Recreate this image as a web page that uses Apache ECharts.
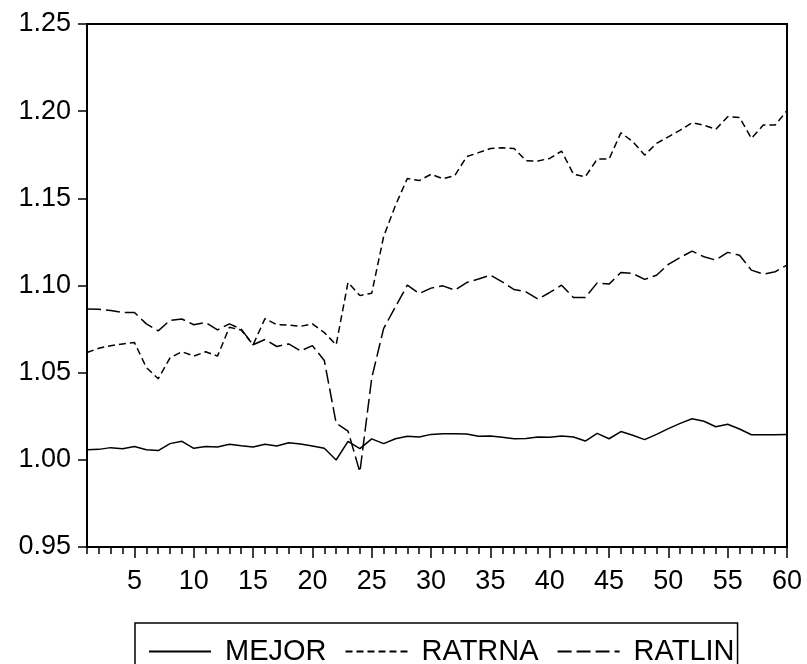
<!DOCTYPE html>
<html>
<head>
<meta charset="utf-8">
<script src="https://cdn.jsdelivr.net/npm/echarts@6/dist/echarts.min.js"></script>
<style>
  html, body { margin: 0; padding: 0; background: #fff; }
  #chart { width: 807px; height: 664px; }
</style>
</head>
<body>
<div id="chart"></div>
<script>
// Observation index 1..60
const periods = Array.from({ length: 60 }, (_, i) => String(i + 1));

const yTicks = [0.95, 1.00, 1.05, 1.10, 1.15, 1.20, 1.25];

const mejor = [
  1.0058, 1.0060, 1.0070, 1.0064, 1.0076, 1.0058, 1.0053, 1.0093, 1.0106, 1.0066,
  1.0076, 1.0074, 1.0089, 1.0081, 1.0074, 1.0089, 1.0079, 1.0098, 1.0091, 1.0079,
  1.0066, 0.9999, 1.0106, 1.0064, 1.0120, 1.0093, 1.0121, 1.0135, 1.0131, 1.0146,
  1.0150, 1.0150, 1.0148, 1.0135, 1.0137, 1.0129, 1.0121, 1.0123, 1.0131, 1.0129,
  1.0137, 1.0131, 1.0108, 1.0152, 1.0121, 1.0162, 1.0141, 1.0116, 1.0146, 1.0179,
  1.0209, 1.0236, 1.0221, 1.0190, 1.0204, 1.0177, 1.0144, 1.0144, 1.0144, 1.0146
];

const ratrna = [
  1.0616, 1.0640, 1.0655, 1.0665, 1.0673, 1.0530, 1.0465, 1.0585, 1.0620, 1.0595,
  1.0620, 1.0595, 1.0760, 1.0745, 1.0660, 1.0810, 1.0775, 1.0773, 1.0766, 1.0780,
  1.0730, 1.0660, 1.1018, 1.0942, 1.0956, 1.1280, 1.1460, 1.1614, 1.1602, 1.1638,
  1.1612, 1.1631, 1.1739, 1.1762, 1.1786, 1.1790, 1.1786, 1.1716, 1.1714, 1.1729,
  1.1771, 1.1639, 1.1624, 1.1725, 1.1725, 1.1876, 1.1825, 1.1748, 1.1815, 1.1853,
  1.1891, 1.1934, 1.1920, 1.1896, 1.1968, 1.1964, 1.1844, 1.1920, 1.1920, 1.2003
];

const ratlin = [
  1.0865, 1.0864, 1.0856, 1.0846, 1.0845, 1.0780, 1.0740, 1.0800, 1.0808, 1.0775,
  1.0788, 1.0745, 1.0780, 1.0750, 1.0660, 1.0690, 1.0650, 1.0665, 1.0625, 1.0655,
  1.0570, 1.0210, 1.0165, 0.9930, 1.0470, 1.0753, 1.0878, 1.1002, 1.0954, 1.0985,
  1.0998, 1.0973, 1.1017, 1.1037, 1.1059, 1.1021, 1.0977, 1.0964, 1.0922, 1.0960,
  1.1002, 1.0931, 1.0931, 1.1015, 1.1008, 1.1075, 1.1069, 1.1035, 1.1059, 1.1121,
  1.1161, 1.1197, 1.1165, 1.1146, 1.1190, 1.1174, 1.1088, 1.1065, 1.1079, 1.1117
];

const FONT = "'Liberation Sans', Arial, sans-serif";
const INK = '#000';

const chart = echarts.init(document.getElementById('chart'), null, { renderer: 'canvas' });

function seriesLine(name, data, dash) {
  return {
    name, type: 'line', data,
    xAxisIndex: 0, yAxisIndex: 0,
    symbol: 'none', showSymbol: false,
    animation: false,
    lineStyle: { color: INK, width: 1.5, type: dash },
    itemStyle: { color: INK }
  };
}

chart.setOption({
  animation: false,
  backgroundColor: '#fff',
  grid: {
    left: 87, right: 20, top: 24, bottom: 117,
    show: true, borderColor: INK, borderWidth: 2, backgroundColor: 'transparent'
  },
  xAxis: [
    {
      type: 'category', data: periods, boundaryGap: false, position: 'bottom',
      axisLine: { show: true, lineStyle: { color: INK, width: 2 } },
      axisTick: { show: true, interval: 0, length: 7, lineStyle: { color: INK, width: 1.5 } },
      axisLabel: {
        interval: (idx) => (idx + 1) % 5 === 0,
        color: INK, fontFamily: FONT, fontSize: 27, margin: 21
      },
      splitLine: { show: false }
    },
    {
      // longer ticks at every fifth period
      type: 'category', data: periods, boundaryGap: false, position: 'bottom',
      axisLine: { show: false },
      axisTick: { show: true, interval: (idx) => (idx + 1) % 5 === 0, length: 11, lineStyle: { color: INK, width: 1.5 } },
      axisLabel: { show: false },
      splitLine: { show: false }
    }
  ],
  yAxis: {
    type: 'value', min: yTicks[0], max: yTicks[yTicks.length - 1], interval: 0.05,
    axisLine: { show: true, lineStyle: { color: INK, width: 2 } },
    axisTick: { show: true, length: 9, lineStyle: { color: INK, width: 1.5 } },
    axisLabel: {
      color: INK, fontFamily: FONT, fontSize: 27, margin: 16,
      formatter: (v) => v.toFixed(2)
    },
    splitLine: { show: false }
  },
  legend: {
    left: 135, top: 623,
    data: ['MEJOR', 'RATRNA', 'RATLIN'],
    orient: 'horizontal',
    itemWidth: 62, itemHeight: 14, itemGap: 18,
    padding: [14, 3, 14, 13],
    borderColor: INK, borderWidth: 1.5, borderRadius: 0,
    itemStyle: { opacity: 0 },
    textStyle: { color: INK, fontFamily: FONT, fontSize: 29, padding: [0, 0, 0, 9] },
    selectedMode: false
  },
  series: [
    seriesLine('MEJOR', mejor, 'solid'),
    seriesLine('RATRNA', ratrna, [7, 4]),
    seriesLine('RATLIN', ratlin, [14, 5])
  ]
});
</script>
</body>
</html>
